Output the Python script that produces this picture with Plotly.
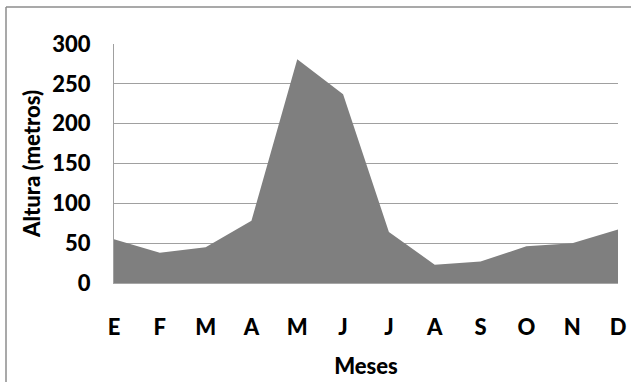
import plotly.graph_objects as go

# Monthly height values
meses = ["E", "F", "M", "A", "M", "J", "J", "A", "S", "O", "N", "D"]
altura = [55, 38, 45, 78, 281, 237, 64, 23, 27, 46, 50, 67]
y_ticks = [0, 50, 100, 150, 200, 250, 300]

x_idx = list(range(len(meses)))

W, H = 631, 382
ML, MR, MT, MB = 114, 13, 44, 99

fig = go.Figure()
fig.add_trace(go.Scatter(
    x=x_idx, y=altura, mode="lines", fill="tozeroy",
    fillcolor="#7f7f7f", line=dict(width=0, color="#7f7f7f"),
    hoverinfo="skip", showlegend=False,
))

font_fam = "Lato, 'Open Sans', sans-serif"
bold_font = dict(family=font_fam, size=22, color="black", weight=900)

fig.update_layout(
    width=W, height=H,
    margin=dict(l=ML, r=MR, t=MT, b=MB),
    paper_bgcolor="white", plot_bgcolor="white",
    font=dict(family=font_fam, size=22, color="black"),
    showlegend=False,
    xaxis=dict(
        range=[0, len(meses) - 1],
        tickmode="array", tickvals=x_idx, ticktext=meses,
        showgrid=False, zeroline=False,
        showline=True, linecolor="#a6a6a6", linewidth=1,
        ticks="", ticklabelstandoff=25,
        tickfont=bold_font,
        title=dict(text="Meses", standoff=19, font=bold_font),
        automargin=False,
        fixedrange=True,
    ),
    yaxis=dict(
        range=[0, 300],
        tickmode="array", tickvals=y_ticks,
        showgrid=True, gridcolor="#a0a0a0", gridwidth=1,
        zeroline=False,
        showline=True, linecolor="#a0a0a0", linewidth=1,
        ticks="", ticklabelstandoff=18,
        tickfont=bold_font,
        title=dict(text="Altura (metros)", standoff=5, font=bold_font),
        automargin=False,
        fixedrange=True,
    ),
)

# Chart frame (left and top edges visible)
pw = W - ML - MR
ph = H - MT - MB
x0 = (6 - ML) / pw
y0 = (H - MB - 7) / ph
fig.add_shape(type="line", xref="paper", yref="paper",
              x0=x0, x1=(W + 5 - ML) / pw, y0=y0, y1=y0,
              line=dict(color="#8c8c8c", width=1.5))
fig.add_shape(type="line", xref="paper", yref="paper",
              x0=x0, x1=x0, y0=y0, y1=(H - MB - (H + 5)) / ph,
              line=dict(color="#8c8c8c", width=1.5))

fig.write_html("out.html")
